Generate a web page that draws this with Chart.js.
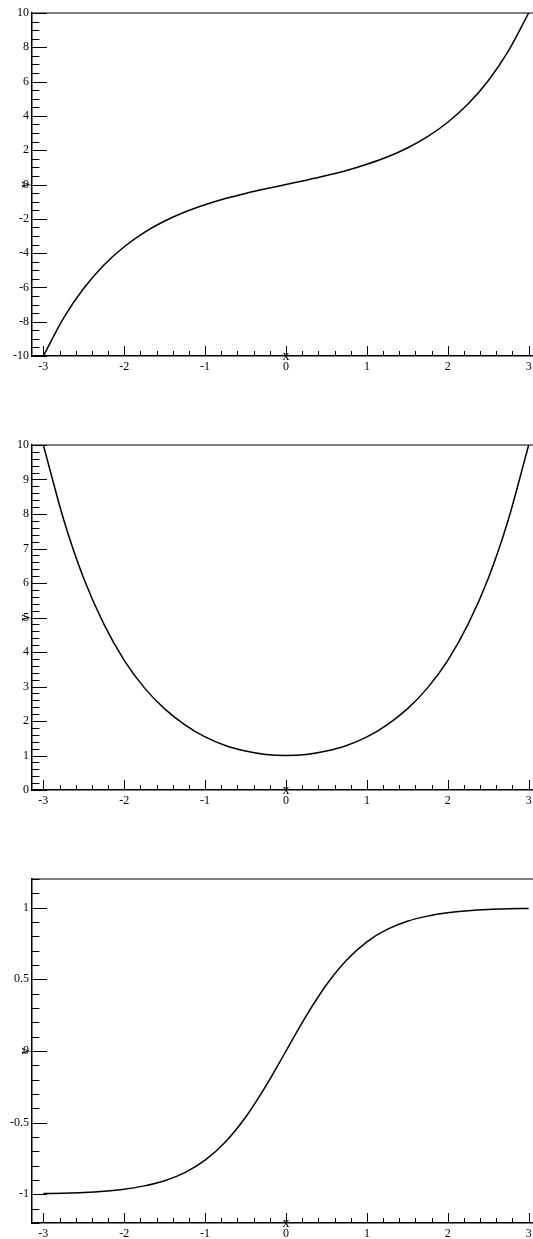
<!DOCTYPE html>
<html>
<head>
<meta charset="utf-8">
<title>sinh / cosh / tanh</title>
<script src="https://cdn.jsdelivr.net/npm/chart.js@4.4.1/dist/chart.umd.min.js"></script>
<style>
  html, body { margin: 0; padding: 0; background: #fff; width: 533px; height: 1239px; overflow: hidden; }
  canvas { position: absolute; left: 0; }
</style>
</head>
<body>
<canvas id="plot-sinh" style="top:0px"></canvas>
<canvas id="plot-cosh" style="top:420px"></canvas>
<canvas id="plot-tanh" style="top:850px"></canvas>
<script>
// 采样点（x 每 0.25 一个）
const xs = [-3, -2.75, -2.5, -2.25, -2, -1.75, -1.5, -1.25, -1, -0.75, -0.5, -0.25, 0,
            0.25, 0.5, 0.75, 1, 1.25, 1.5, 1.75, 2, 2.25, 2.5, 2.75, 3];

const sinhY = [-10.0, -7.79, -6.05, -4.69, -3.63, -2.79, -2.13, -1.60, -1.18, -0.82, -0.52, -0.25, 0,
               0.25, 0.52, 0.82, 1.18, 1.60, 2.13, 2.79, 3.63, 4.69, 6.05, 7.79, 10.0];

const coshY = [10.0, 7.85, 6.13, 4.80, 3.76, 2.96, 2.35, 1.89, 1.54, 1.29, 1.13, 1.03, 1.0,
               1.03, 1.13, 1.29, 1.54, 1.89, 2.35, 2.96, 3.76, 4.80, 6.13, 7.85, 10.0];

const tanhY = [-0.995, -0.992, -0.987, -0.978, -0.964, -0.941, -0.905, -0.848, -0.762, -0.635, -0.462, -0.245, 0,
               0.245, 0.462, 0.635, 0.762, 0.848, 0.905, 0.941, 0.964, 0.978, 0.987, 0.992, 0.995];

// 刻度
const xTicks = [-3, -2, -1, 0, 1, 2, 3];
const sinhTicks = [-10, -8, -6, -4, -2, 0, 2, 4, 6, 8, 10];
const coshTicks = [0, 1, 2, 3, 4, 5, 6, 7, 8, 9, 10];
const tanhTicks = [-1, -0.5, 0, 0.5, 1];

const FONT = 'Liberation Serif, Times New Roman, serif';

// 框内的主/次刻度和上边框
const frameTicks = {
  id: 'frameTicks',
  afterDatasetsDraw(chart, args, opts) {
    const { ctx, chartArea: a, scales: { x, y } } = chart;
    ctx.save();
    ctx.strokeStyle = '#000';
    ctx.lineWidth = 1;

    ctx.beginPath();
    ctx.moveTo(a.left, a.top);
    ctx.lineTo(a.right, a.top);
    ctx.stroke();

    const isMajor = (v, list) => list.some(t => Math.abs(t - v) < 1e-6);

    ctx.beginPath();
    for (let i = Math.ceil(x.min / 0.2); i <= Math.floor(x.max / 0.2); i++) {
      const v = i * 0.2;
      const px = Math.round(x.getPixelForValue(v)) + 0.5;
      const len = isMajor(v, xTicks) ? 10 : 5;
      ctx.moveTo(px, a.bottom);
      ctx.lineTo(px, a.bottom - len);
    }
    const step = opts.yStep;
    for (let i = Math.ceil(y.min / step - 1e-6); i <= Math.floor(y.max / step + 1e-6); i++) {
      const v = i * step;
      const py = Math.round(y.getPixelForValue(v)) + 0.5;
      const len = isMajor(v, opts.yTicks) ? 15 : 7.5;
      ctx.moveTo(a.left, py);
      ctx.lineTo(a.left + len, py);
    }
    ctx.stroke();
    ctx.restore();
  }
};

function makePlot(id, ys, yTicks, yMin, yMax, yStep, padTop, height) {
  const el = document.getElementById(id);
  el.width = 540;
  el.height = height;
  const ctx = el.getContext('2d');

  return new Chart(ctx, {
    type: 'line',
    data: {
      datasets: [{
        data: xs.map((x, i) => ({ x: x, y: ys[i] })),
        borderColor: '#000',
        borderWidth: 1.5,
        pointRadius: 0,
        fill: false,
        cubicInterpolationMode: 'monotone'
      }]
    },
    options: {
      responsive: false,
      animation: false,
      events: [],
      layout: { padding: { top: padTop, left: 0, right: 0, bottom: 0 } },
      plugins: {
        legend: { display: false },
        tooltip: { enabled: false },
        frameTicks: { yTicks: yTicks, yStep: yStep }
      },
      scales: {
        x: {
          type: 'linear',
          min: -3.14,
          max: 3.14,
          afterBuildTicks: s => { s.ticks = xTicks.map(v => ({ value: v })); },
          afterFit: s => { s.height = 24; },
          grid: { display: false, drawTicks: false },
          border: { display: true, color: '#000', width: 1.5 },
          ticks: {
            color: '#000', padding: 4, maxRotation: 0, autoSkip: false,
            font: { family: FONT, size: 12 },
            callback: v => String(v)
          },
          title: {
            display: true, text: 'x', color: '#000',
            font: { family: FONT, size: 14 },
            padding: { top: 0, bottom: 15 }
          }
        },
        y: {
          type: 'linear',
          min: yMin,
          max: yMax,
          afterBuildTicks: s => { s.ticks = yTicks.map(v => ({ value: v })); },
          afterFit: s => { s.width = 32; },
          grid: { display: false, drawTicks: false },
          border: { display: true, color: '#000', width: 1.5 },
          ticks: {
            color: '#000', padding: 3,
            font: { family: FONT, size: 12 },
            callback: v => String(v)
          },
          title: {
            display: true, text: 'y', color: '#000',
            font: { family: FONT, size: 14 },
            padding: { top: 17, bottom: 0 }
          }
        }
      }
    },
    plugins: [frameTicks]
  });
}

document.addEventListener('DOMContentLoaded', () => {
  makePlot('plot-sinh', sinhY, sinhTicks, -10, 10, 0.5, 13, 380);
  makePlot('plot-cosh', coshY, coshTicks, 0, 10, 0.2, 25, 394);
  makePlot('plot-tanh', tanhY, tanhTicks, -1.2, 1.2, 0.1, 29, 397);
});
</script>
</body>
</html>
